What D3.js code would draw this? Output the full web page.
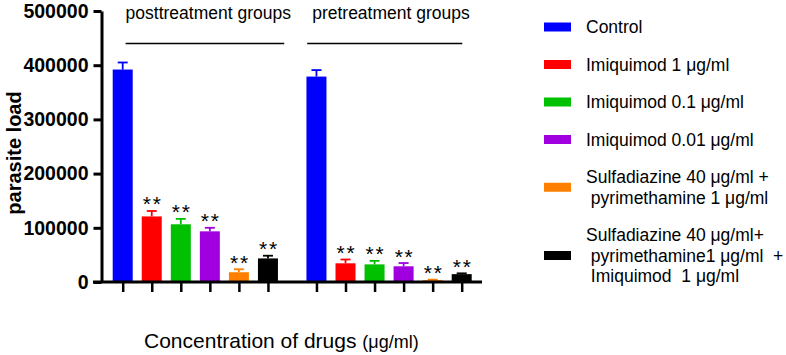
<!DOCTYPE html>
<html>
<head>
<meta charset="utf-8">
<script src="https://cdn.jsdelivr.net/npm/d3@7"></script>
<style>
  body { margin: 0; background: #fff; }
  text { font-family: "Liberation Sans", Arial, sans-serif; }
</style>
</head>
<body>
<div id="chart"></div>
<script>
// values
const groups = ["posttreatment groups", "pretreatment groups"]
const treatments = [
  "Control",
  "Imiquimod 1 μg/ml",
  "Imiquimod 0.1 μg/ml",
  "Imiquimod 0.01 μg/ml",
  "Sulfadiazine 40 μg/ml +\n pyrimethamine 1 μg/ml",
  "Sulfadiazine 40 μg/ml+\n pyrimethamine1 μg/ml  +\n Imiquimod  1 μg/ml"
]
const colors = ["#0000ff", "#ff0000", "#00c000", "#a000e0", "#ff8000", "#000000"]
const postMeans = [392000, 121000, 106500, 93500, 18000, 43500]
const postSD = [13000, 10000, 10000, 6500, 5500, 5000]
const preMeans = [379000, 34500, 32500, 29000, 3500, 14500]
const preSD = [12000, 7000, 6500, 6000, 800, 1500]
const stars = ["", "**", "**", "**", "**", "**"]
const yTicks = [0, 100000, 200000, 300000, 400000, 500000]

const width = 786
const height = 355
const groupGap = 6.67   // x units between the first bars of the two groups

const svg = d3.select("#chart").append("svg")
  .attr("width", width)
  .attr("height", height)

const x = d3.scaleLinear()
  .domain([0, groupGap + 5])
  .range([122.7, 461.7])

const y = d3.scaleLinear()
  .domain([0, 500000])
  .range([282, 11])

const barW = 20

var data = []
groups.forEach(function(g, gi) {
  var means = gi == 0 ? postMeans : preMeans
  var sds = gi == 0 ? postSD : preSD
  treatments.forEach(function(t, i) {
    data.push({pos: gi * groupGap + i, mean: means[i], sd: sds[i], color: colors[i], star: stars[i]})
  })
})

// bars
svg.append("g")
  .selectAll("rect")
  .data(data)
  .enter()
  .append("rect")
    .attr("x", function(d) { return x(d.pos) - barW / 2 })
    .attr("width", barW)
    .attr("y", function(d) { return y(d.mean) })
    .attr("height", function(d) { return y(0) - y(d.mean) })
    .attr("fill", function(d) { return d.color })

// error bars (upper half only)
const err = svg.append("g")
  .selectAll("g")
  .data(data)
  .enter()
  .append("g")
    .attr("stroke", function(d) { return d.color })
    .attr("stroke-width", 1.8)
err.append("line")
  .attr("x1", function(d) { return x(d.pos) })
  .attr("x2", function(d) { return x(d.pos) })
  .attr("y1", function(d) { return y(d.mean) })
  .attr("y2", function(d) { return y(d.mean + d.sd) })
err.append("line")
  .attr("x1", function(d) { return x(d.pos) - 5 })
  .attr("x2", function(d) { return x(d.pos) + 5 })
  .attr("y1", function(d) { return y(d.mean + d.sd) })
  .attr("y2", function(d) { return y(d.mean + d.sd) })

// significance stars
svg.append("g")
  .selectAll("text")
  .data(data.filter(function(d) { return d.star != "" }))
  .enter()
  .append("text")
    .attr("x", function(d) { return x(d.pos) + 1 })
    .attr("y", function(d) { return y(d.mean + d.sd) + 0.5 })
    .attr("text-anchor", "middle")
    .style("font-size", "21px")
    .style("letter-spacing", "1.8px")
    .text(function(d) { return d.star })

// y axis
const yAxis = svg.append("g")
  .attr("transform", "translate(101.5,0)")
  .call(d3.axisLeft(y).tickValues(yTicks).tickSize(8).tickSizeOuter(0).tickFormat(d3.format("d")))
yAxis.select(".domain").attr("stroke-width", 3)
yAxis.selectAll(".tick line").attr("stroke-width", 3)
yAxis.selectAll(".tick text")
  .attr("x", -13)
  .style("font-size", "19.5px")
  .style("font-weight", "bold")
  .style("font-family", "'Liberation Sans', Arial, sans-serif")
  .attr("fill", "#000")

// x axis: ticks under every bar, no labels
const xAxis = svg.append("g")
  .attr("transform", "translate(0," + y(0) + ")")
  .call(d3.axisBottom(x).tickValues(data.map(function(d) { return d.pos })).tickSize(10).tickFormat(""))
xAxis.select(".domain").remove()
xAxis.selectAll(".tick line").attr("stroke-width", 2.5)
svg.append("line")
  .attr("x1", 93).attr("x2", 482)
  .attr("y1", y(0)).attr("y2", y(0))
  .attr("stroke", "#000")
  .attr("stroke-width", 3)

// group headers
const headerSpans = [[0.1, 5.56], [6.35, 11.69]]
groups.forEach(function(g, gi) {
  svg.append("text")
    .attr("x", x(headerSpans[gi][0]) + (gi == 0 ? 0 : 5))
    .attr("y", 19)
    .style("font-size", "17.5px")
    .text(g)
  svg.append("line")
    .attr("x1", x(headerSpans[gi][0]))
    .attr("x2", x(headerSpans[gi][1]))
    .attr("y1", 43.5).attr("y2", 43.5)
    .attr("stroke", "#000")
    .attr("stroke-width", 1.3)
})

// axis titles
svg.append("text")
  .attr("transform", "translate(21,153) rotate(-90)")
  .attr("text-anchor", "middle")
  .style("font-size", "20px")
  .style("font-weight", "bold")
  .text("parasite load")

const xt = svg.append("text")
  .attr("x", 144)
  .attr("y", 348)
  .style("font-size", "21px")
xt.append("tspan").text("Concentration of drugs ")
xt.append("tspan").style("font-size", "18px").text("(μg/ml)")

// legend
const lineH = 20.5
var legendTop = 16.75
treatments.forEach(function(t, i) {
  var lines = t.split("\n")
  var cy = legendTop + lines.length * lineH / 2
  svg.append("rect")
    .attr("x", 544).attr("y", cy - 4.5)
    .attr("width", 27).attr("height", 9)
    .attr("fill", colors[i])
  var txt = svg.append("text")
    .attr("x", 586)
    .attr("y", cy - (lines.length - 1) * lineH / 2 + 6)
    .style("font-size", "17.5px")
    .attr("xml:space", "preserve")
    .style("white-space", "pre")
  lines.forEach(function(l, li) {
    txt.append("tspan")
      .attr("x", 586)
      .attr("dy", li == 0 ? 0 : lineH)
      .text(l)
  })
  legendTop += lines.length * lineH + 17
})
</script>
</body>
</html>
